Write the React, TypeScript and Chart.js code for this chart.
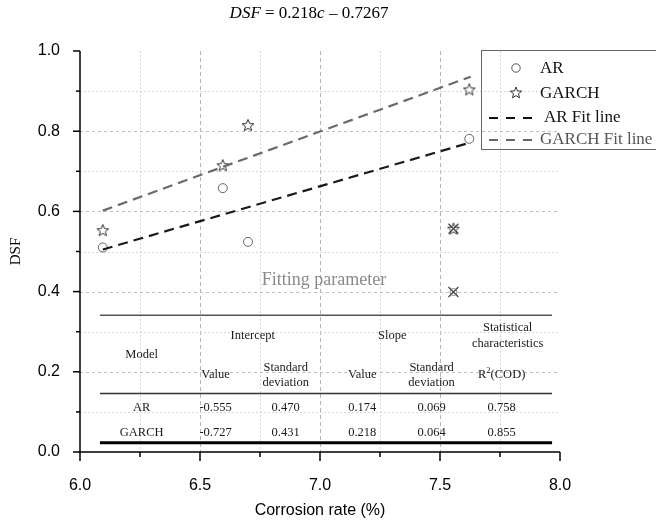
import React, { useEffect, useRef } from 'react';
import { Chart, registerables } from 'chart.js';

Chart.register(...registerables);

// ---- data ----
const arX = [6.095, 6.595, 6.7, 7.622];
const arY = [0.51, 0.658, 0.524, 0.781];
const garchX = [6.095, 6.595, 6.7, 7.622];
const garchY = [0.553, 0.715, 0.815, 0.904];
const outlierArX = [7.556];
const outlierArY = [0.399];
const outlierGarchX = [7.556];
const outlierGarchY = [0.557];
const arFitX = [6.095, 7.628];
const arFitY = [0.505, 0.772];
const garchFitX = [6.095, 7.628];
const garchFitY = [0.602, 0.936];

const xMajorTicks = [6.0, 6.5, 7.0, 7.5, 8.0];
const xMinorTicks = [6.25, 6.75, 7.25, 7.75];
const yMajorTicks = [0.0, 0.2, 0.4, 0.6, 0.8, 1.0];
const yMinorTicks = [0.1, 0.3, 0.5, 0.7, 0.9];

const tableModels = ['AR', 'GARCH'];
const interceptValues = ['-0.555', '-0.727'];
const interceptSD = ['0.470', '0.431'];
const slopeValues = ['0.174', '0.218'];
const slopeSD = ['0.069', '0.064'];
const r2Values = ['0.758', '0.855'];

const legendLabels = ['AR', 'GARCH', 'AR Fit line', 'GARCH Fit line'];

const SERIF = "'Liberation Serif', 'Times New Roman', serif";
const SANS = "'Liberation Sans', Arial, sans-serif";

function starPath(ctx: CanvasRenderingContext2D, cx: number, cy: number, R: number, r: number) {
  ctx.beginPath();
  for (let i = 0; i < 10; i++) {
    const a = -Math.PI / 2 + (i * Math.PI) / 5;
    const rad = i % 2 === 0 ? R : r;
    const px = cx + rad * Math.cos(a);
    const py = cy + rad * Math.sin(a);
    if (i === 0) ctx.moveTo(px, py);
    else ctx.lineTo(px, py);
  }
  ctx.closePath();
}

function makeStar(color: string): HTMLCanvasElement {
  const c = document.createElement('canvas');
  c.width = 16;
  c.height = 16;
  const g = c.getContext('2d')!;
  g.strokeStyle = color;
  g.lineWidth = 1;
  starPath(g, 8, 8.5, 6.2, 2.7);
  g.stroke();
  return c;
}

const toXY = (xs: number[], ys: number[]) => xs.map((v, i) => ({ x: v, y: ys[i] }));

const overlayPlugin = {
  id: 'overlay',
  beforeDatasetsDraw(chart: any) {
    const { ctx, chartArea: ca, scales } = chart;
    const x = scales.x;
    const y = scales.y;
    ctx.save();
    // vertical grid
    [...xMinorTicks, 6.5, 7.0, 7.5].forEach((v) => {
      const major = xMajorTicks.includes(v);
      const px = Math.round(x.getPixelForValue(v)) + 0.5;
      ctx.beginPath();
      ctx.strokeStyle = major ? '#b4b4b4' : '#d6d6d6';
      ctx.lineWidth = 1;
      ctx.setLineDash(major ? [4, 3] : [2, 2]);
      ctx.moveTo(px, ca.top);
      ctx.lineTo(px, ca.bottom);
      ctx.stroke();
    });
    // horizontal grid
    [...yMinorTicks, 0.2, 0.4, 0.6, 0.8].forEach((v) => {
      const major = yMajorTicks.includes(v);
      const py = Math.round(y.getPixelForValue(v)) + 0.5;
      ctx.beginPath();
      ctx.strokeStyle = major ? '#c0c0c0' : '#d6d6d6';
      ctx.lineWidth = 1;
      ctx.setLineDash(major ? [3, 3] : [2, 2]);
      ctx.moveTo(ca.left, py);
      ctx.lineTo(ca.right, py);
      ctx.stroke();
    });
    ctx.setLineDash([]);

    // ---- embedded table ----
    const X = (v: number) => x.getPixelForValue(v);
    const Y = (v: number) => y.getPixelForValue(v);
    const ruleL = X(6.083);
    const ruleR = X(7.967);
    ctx.strokeStyle = '#555';
    ctx.lineWidth = 1.5;
    ctx.beginPath();
    ctx.moveTo(ruleL, Y(0.341));
    ctx.lineTo(ruleR, Y(0.341));
    ctx.stroke();
    ctx.strokeStyle = '#333';
    ctx.beginPath();
    ctx.moveTo(ruleL, Y(0.146));
    ctx.lineTo(ruleR, Y(0.146));
    ctx.stroke();
    ctx.strokeStyle = '#000';
    ctx.lineWidth = 3;
    ctx.beginPath();
    ctx.moveTo(ruleL, Y(0.023));
    ctx.lineTo(ruleR, Y(0.023));
    ctx.stroke();

    ctx.textAlign = 'center';
    ctx.textBaseline = 'middle';
    ctx.fillStyle = '#8a8a8a';
    ctx.font = `18px ${SERIF}`;
    ctx.fillText('Fitting parameter', X(7.017), Y(0.429));

    ctx.fillStyle = '#1a1a1a';
    ctx.font = `12.5px ${SERIF}`;
    const cModel = 6.257, cIV = 6.565, cISD = 6.857, cSV = 7.176, cSSD = 7.465, cR2 = 7.757;
    ctx.fillText('Model', X(cModel), Y(0.242));
    ctx.fillText('Intercept', X(6.72), Y(0.289));
    ctx.fillText('Slope', X(7.301), Y(0.289));
    ctx.fillText('Statistical', X(7.782), Y(0.31));
    ctx.fillText('characteristics', X(7.782), Y(0.269));
    ctx.fillText('Value', X(cIV), Y(0.192));
    ctx.fillText('Standard', X(cISD), Y(0.211));
    ctx.fillText('deviation', X(cISD), Y(0.173));
    ctx.fillText('Value', X(cSV), Y(0.192));
    ctx.fillText('Standard', X(cSSD), Y(0.211));
    ctx.fillText('deviation', X(cSSD), Y(0.173));
    // R²(COD)
    {
      const wR = ctx.measureText('R').width;
      const wC = ctx.measureText('(COD)').width;
      ctx.font = `8.5px ${SERIF}`;
      const w2 = ctx.measureText('2').width;
      const total = wR + w2 + wC;
      const sx = X(cR2) - total / 2;
      const cy = Y(0.192);
      ctx.textAlign = 'left';
      ctx.font = `12.5px ${SERIF}`;
      ctx.fillText('R', sx, cy);
      ctx.font = `8.5px ${SERIF}`;
      ctx.fillText('2', sx + wR, cy - 4);
      ctx.font = `12.5px ${SERIF}`;
      ctx.fillText('(COD)', sx + wR + w2, cy);
      ctx.textAlign = 'center';
    }
    const rowY = [0.111, 0.049];
    tableModels.forEach((m, i) => {
      const yy = Y(rowY[i]);
      ctx.fillText(m, X(cModel), yy);
      ctx.fillText(interceptValues[i], X(cIV), yy);
      ctx.fillText(interceptSD[i], X(cISD), yy);
      ctx.fillText(slopeValues[i], X(cSV), yy);
      ctx.fillText(slopeSD[i], X(cSSD), yy);
      ctx.fillText(r2Values[i], X(cR2), yy);
    });
    ctx.restore();
  },
  afterDatasetsDraw(chart: any) {
    const { ctx, chartArea: ca, scales } = chart;
    const x = scales.x;
    const y = scales.y;
    ctx.save();
    ctx.setLineDash([]);
    // axes
    ctx.strokeStyle = '#000';
    ctx.lineWidth = 1.5;
    ctx.beginPath();
    ctx.moveTo(ca.left, ca.top);
    ctx.lineTo(ca.left, ca.bottom);
    ctx.lineTo(ca.right, ca.bottom);
    ctx.stroke();
    xMajorTicks.forEach((v) => {
      const px = x.getPixelForValue(v);
      ctx.beginPath();
      ctx.moveTo(px, ca.bottom);
      ctx.lineTo(px, ca.bottom + 9);
      ctx.stroke();
    });
    xMinorTicks.forEach((v) => {
      const px = x.getPixelForValue(v);
      ctx.beginPath();
      ctx.moveTo(px, ca.bottom);
      ctx.lineTo(px, ca.bottom + 5);
      ctx.stroke();
    });
    yMajorTicks.forEach((v) => {
      const py = y.getPixelForValue(v);
      ctx.beginPath();
      ctx.moveTo(ca.left, py);
      ctx.lineTo(ca.left - 7, py);
      ctx.stroke();
    });
    yMinorTicks.forEach((v) => {
      const py = y.getPixelForValue(v);
      ctx.beginPath();
      ctx.moveTo(ca.left, py);
      ctx.lineTo(ca.left - 4, py);
      ctx.stroke();
    });

    // axis titles
    ctx.fillStyle = '#000';
    ctx.textAlign = 'center';
    ctx.textBaseline = 'middle';
    ctx.font = `16px ${SANS}`;
    ctx.fillText('Corrosion rate (%)', (ca.left + ca.right) / 2, 511);
    ctx.save();
    ctx.translate(16, (ca.top + ca.bottom) / 2);
    ctx.rotate(-Math.PI / 2);
    ctx.font = `15px ${SERIF}`;
    ctx.fillText('DSF', 0, 0);
    ctx.restore();

    // formula
    {
      const parts: [string, boolean][] = [
        ['DSF', true],
        [' = 0.218', false],
        ['c', true],
        [' \u2013 0.7267', false],
      ];
      const fs = 17;
      let total = 0;
      parts.forEach(([t, it]) => {
        ctx.font = `${it ? 'italic ' : ''}${fs}px ${SERIF}`;
        total += ctx.measureText(t).width;
      });
      let sx = 309 - total / 2;
      ctx.textAlign = 'left';
      ctx.textBaseline = 'alphabetic';
      parts.forEach(([t, it]) => {
        ctx.font = `${it ? 'italic ' : ''}${fs}px ${SERIF}`;
        ctx.fillText(t, sx, 18);
        sx += ctx.measureText(t).width;
      });
    }

    // legend
    ctx.strokeStyle = '#666';
    ctx.lineWidth = 1;
    ctx.strokeRect(481.5, 50.5, 200, 99);
    ctx.textAlign = 'left';
    ctx.textBaseline = 'middle';
    ctx.font = `17px ${SERIF}`;
    // AR circle
    ctx.strokeStyle = '#555';
    ctx.beginPath();
    ctx.arc(516, 68, 4.2, 0, Math.PI * 2);
    ctx.stroke();
    ctx.fillStyle = '#111';
    ctx.fillText(legendLabels[0], 540, 69);
    // GARCH star
    ctx.strokeStyle = '#333';
    starPath(ctx, 516, 93, 6, 2.6);
    ctx.stroke();
    ctx.fillText(legendLabels[1], 540, 94);
    // AR fit
    ctx.strokeStyle = '#111';
    ctx.lineWidth = 2;
    ctx.setLineDash([9, 8]);
    ctx.beginPath();
    ctx.moveTo(489, 118);
    ctx.lineTo(540, 118);
    ctx.stroke();
    ctx.fillText(legendLabels[2], 544, 118);
    // GARCH fit
    ctx.strokeStyle = '#666';
    ctx.beginPath();
    ctx.moveTo(489, 140);
    ctx.lineTo(540, 140);
    ctx.stroke();
    ctx.setLineDash([]);
    ctx.fillStyle = '#555';
    ctx.fillText(legendLabels[3], 540, 140);
    ctx.restore();
  },
};

export default function App() {
  const ref = useRef<HTMLCanvasElement>(null);
  useEffect(() => {
    document.body.style.margin = '0';
    const canvas = ref.current!;
    const star = makeStar('#333');
    const chart = new Chart(canvas, {
      type: 'scatter',
      data: {
        datasets: [
          {
            label: 'AR Fit line',
            data: toXY(arFitX, arFitY),
            showLine: true,
            pointRadius: 0,
            borderColor: '#1a1a1a',
            borderWidth: 2.2,
            borderDash: [10, 6],
            fill: false,
          },
          {
            label: 'GARCH Fit line',
            data: toXY(garchFitX, garchFitY),
            showLine: true,
            pointRadius: 0,
            borderColor: '#6a6a6a',
            borderWidth: 2.2,
            borderDash: [10, 6],
            fill: false,
          },
          {
            label: 'AR',
            data: toXY(arX, arY),
            pointStyle: 'circle',
            pointRadius: 4.5,
            borderColor: '#555',
            backgroundColor: 'rgba(255,255,255,0)',
            borderWidth: 0.9,
          },
          {
            label: 'GARCH',
            data: toXY(garchX, garchY),
            pointStyle: star as any,
            pointRadius: 6,
          },
          {
            label: 'AR outlier',
            data: toXY(outlierArX, outlierArY),
            pointStyle: 'circle',
            pointRadius: 3.5,
            borderColor: '#777',
            backgroundColor: 'rgba(255,255,255,0)',
            borderWidth: 0.9,
          },
          {
            label: 'GARCH outlier',
            data: toXY(outlierGarchX, outlierGarchY),
            pointStyle: star as any,
            pointRadius: 6,
          },
          {
            label: 'Excluded',
            data: [...toXY(outlierArX, outlierArY), ...toXY(outlierGarchX, outlierGarchY)],
            pointStyle: 'crossRot',
            pointRadius: 7,
            borderColor: '#444',
            borderWidth: 1.3,
          },
        ],
      },
      options: {
        animation: false,
        responsive: false,
        devicePixelRatio: 1,
        layout: { padding: { top: 51, right: 96, left: 0, bottom: 0 } },
        plugins: {
          legend: { display: false },
          tooltip: { enabled: false },
          title: { display: false },
        },
        scales: {
          x: {
            type: 'linear',
            min: 6,
            max: 8,
            ticks: {
              stepSize: 0.5,
              callback: (v: any) => Number(v).toFixed(1),
              font: { family: SANS, size: 16 },
              color: '#000',
              padding: 24,
              maxRotation: 0,
            },
            grid: { display: false, drawTicks: false },
            border: { display: false },
            afterFit: (s: any) => {
              s.height = 75;
            },
          },
          y: {
            type: 'linear',
            min: 0,
            max: 1,
            ticks: {
              stepSize: 0.2,
              callback: (v: any) => Number(v).toFixed(1),
              font: { family: SANS, size: 16 },
              color: '#000',
              padding: 20,
            },
            grid: { display: false, drawTicks: false },
            border: { display: false },
            afterFit: (s: any) => {
              s.width = 80;
            },
          },
        },
      },
      plugins: [overlayPlugin],
    } as any);
    return () => chart.destroy();
  }, []);
  return (
    <div style={{ width: 656, height: 527, background: '#fff' }}>
      <canvas ref={ref} width={656} height={527} style={{ display: 'block' }} />
    </div>
  );
}
